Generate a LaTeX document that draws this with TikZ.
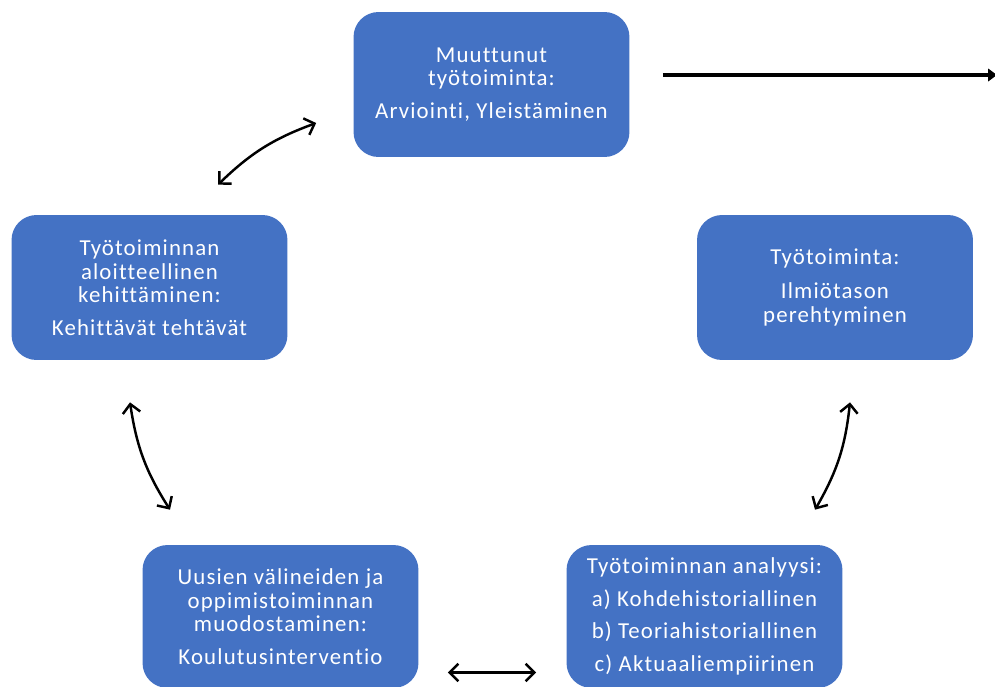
\documentclass[tikz,border=0pt]{standalone}
\usepackage{fontspec}
\setmainfont{Carlito}[LetterSpace=5,Ligatures=NoCommon]
\usepackage{tikz}
\usetikzlibrary{arrows,arrows.meta,calc,positioning}
\definecolor{boxblue}{HTML}{4472C4}

\begin{document}
\begin{tikzpicture}[x=0.02cm,y=-0.02cm,
  phase/.style={fill=boxblue,rounded corners=0.5cm,text=white,align=center,
    minimum width=5.52cm,minimum height=2.9cm,inner sep=0pt,
    font=\fontsize{13}{13.5}\selectfont},
  link/.style={line width=1.4pt,{Straight Barb[length=5pt,width=10pt]}-{Straight Barb[length=5pt,width=10pt]}},
  outlink/.style={line width=2.2pt,-{Triangle[length=5pt,width=7pt]}}]
\useasboundingbox (0,0) rectangle (995,687);
\node[phase] (top) at (491.5,84.5) {Muuttunut\\ työtoiminta:\\[5pt] Arviointi, Yleistäminen};
\node[phase] (left) at (149.5,287.5) {Työtoiminnan\\ aloitteellinen\\ kehittäminen:\\[5pt] Kehittävät tehtävät};
\node[phase] (right) at (835,287.5) {Työtoiminta:\\[6pt] Ilmiötason\\ perehtyminen};
\node[phase,minimum height=2.86cm] (uusi) at (280.5,616.5) {Uusien välineiden ja\\ oppimistoiminnan\\ muodostaminen:\\[5pt] Koulutusinterventio};
\node[phase,minimum height=2.86cm] (analyysi) at (704.5,616.5) {Työtoiminnan analyysi:\\[5pt] a) Kohdehistoriallinen\\[5pt] b) Teoriahistoriallinen\\[5pt] c) Aktuaaliempiirinen};
\coordinate (out) at (997,75);
% cycle arrows
\draw[link] ([shift={(68.5,-30)}]left.north) to[bend left=12] ([shift={(-37,38.5)}]top.west);
\draw[link] ([shift={(-19.5,42)}]left.south) to[bend right=12] ([shift={(-110.5,-35)}]uusi.north);
\draw[link] ([shift={(15,42)}]right.south) to[bend left=12] ([shift={(110.5,-35)}]analyysi.north);
\draw[link] ([shift={(29,56)}]uusi.east) -- ([shift={(-30,56)}]analyysi.west);
\draw[outlink] ([shift={(33,-9.5)}]top.east) -- (out);
\end{tikzpicture}
\end{document}
